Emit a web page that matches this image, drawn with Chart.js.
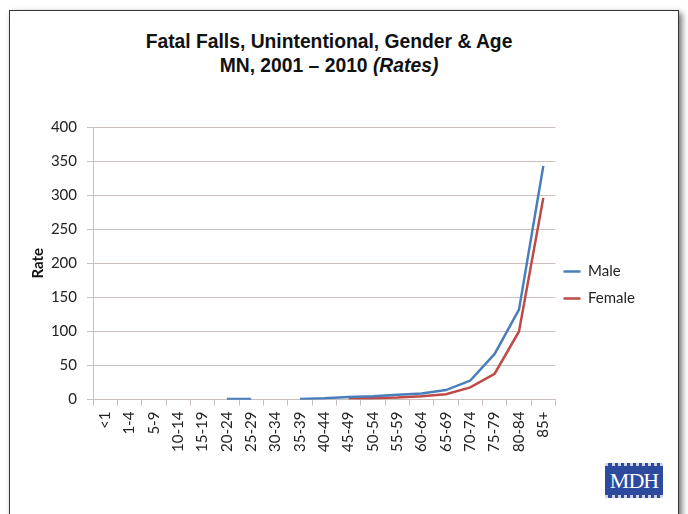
<!DOCTYPE html>
<html>
<head>
<meta charset="utf-8">
<script src="https://cdn.jsdelivr.net/npm/chart.js@4.4.1/dist/chart.umd.min.js"></script>
<style>
  html, body { margin: 0; padding: 0; background: #fff; }
  body { width: 688px; height: 514px; position: relative; overflow: hidden; }
  #frame {
    position: absolute; left: 9px; top: 10px; width: 668px; height: 510px;
    border: 1px solid #333; background: #fff;
    box-shadow: 3px 3px 6px rgba(0,0,0,0.55);
  }
  #title {
    position: absolute; left: 0; top: 30px; width: 658px; text-align: center;
    font-family: "Liberation Sans", Arial, sans-serif; font-weight: bold;
    font-size: 19.3px; line-height: 24px; color: #111;
  }
  #wrap { position: absolute; left: 10px; top: 108px; width: 660px; height: 350px; }
  #logo {
    position: absolute; left: 605px; top: 463px; width: 58px; height: 35px;
    background: #2e4a9e; color: #fff; font-family: "Liberation Serif", serif;
    font-size: 22px; text-align: center; letter-spacing: -1px;
    border-top: 3px dotted #cdd4ea; border-bottom: 3px dotted #cdd4ea; box-sizing: border-box; line-height: 29px;
  }
</style>
</head>
<body>
<div id="frame"></div>
<div id="title">Fatal Falls, Unintentional, Gender &amp; Age<br>MN, 2001 &ndash; 2010 <i>(Rates)</i></div>
<div id="wrap"><canvas id="line-chart"></canvas></div>
<div id="logo">MDH</div>
<script>
document.addEventListener("DOMContentLoaded", function(){
    const ageGroups = ["<1","1-4","5-9","10-14","15-19","20-24","25-29","30-34","35-39","40-44",
        "45-49","50-54","55-59","60-64","65-69","70-74","75-79","80-84","85+"]
    const maleRates = [null,null,null,null,null,1,1,null,1,2,4,5,7,9,14,28,67,132,343]
    const femaleRates = [null,null,null,null,null,null,null,null,null,null,2,2,3,5,8,18,38,100,296]
    const yTicks = [0,50,100,150,200,250,300,350,400]

    const gridColor = "#cbbfbb"
    const tickFont = { family: "Lato, 'Open Sans', sans-serif", size: 15 }

    // nudge the legend, Excel places it a bit off where Chart.js would
    const legendShift = {
        id : "legendShift",
        afterLayout : function(chart){
            chart.legend.top -= 1
            chart.legend.bottom -= 1
            chart.legend.left -= 4
            chart.legend.right -= 4
        }
    }

    new Chart(document.getElementById("line-chart"), {
        type : "line",
        data : {
            labels : ageGroups,
            datasets : [{
                label : "Male",
                data : maleRates,
                borderColor : "#4a7ebb",
                backgroundColor : "#4a7ebb",
                borderWidth : 2.5,
                pointRadius : 0,
                fill : false,
                spanGaps : false
            },{
                label : "Female",
                data : femaleRates,
                borderColor : "#be4b48",
                backgroundColor : "#be4b48",
                borderWidth : 2.5,
                pointRadius : 0,
                fill : false,
                spanGaps : false
            }]
        },
        options : {
            responsive : true,
            maintainAspectRatio : false,
            animation : false,
            layout : { padding : { left : 19, right : 21, top : 6, bottom : 0 } },
            plugins : {
                title : { display : false },
                legend : {
                    position : "right",
                    labels : {
                        usePointStyle : true,
                        pointStyle : "line",
                        pointStyleWidth : 17,
                        color : "#222",
                        font : tickFont,
                        padding : 12
                    }
                },
                tooltip : { enabled : false }
            },
            scales : {
                x : {
                    offset : true,
                    grid : { offset : true, drawOnChartArea : false, drawTicks : true, tickLength : 6, color : gridColor },
                    border : { color : gridColor },
                    ticks : { minRotation : 90, maxRotation : 90, color : "#222", font : tickFont, autoSkip : false, padding : 6 }
                },
                y : {
                    min : 0,
                    max : 400,
                    afterBuildTicks : function(axis){ axis.ticks = yTicks.map(v => ({ value : v })) },
                    afterFit : function(axis){ axis.width = 64 },
                    grid : { color : gridColor, tickLength : 6 },
                    border : { color : gridColor },
                    ticks : { color : "#222", font : tickFont, padding : 10 },
                    title : {
                        display : true,
                        text : "Rate",
                        color : "#111",
                        padding : { top : 0, bottom : 0 },
                        font : { family: "Lato, 'Open Sans', sans-serif", size: 15, weight: "bold" }
                    }
                }
            }
        },
        plugins : [legendShift]
    })
});
</script>
</body>
</html>
